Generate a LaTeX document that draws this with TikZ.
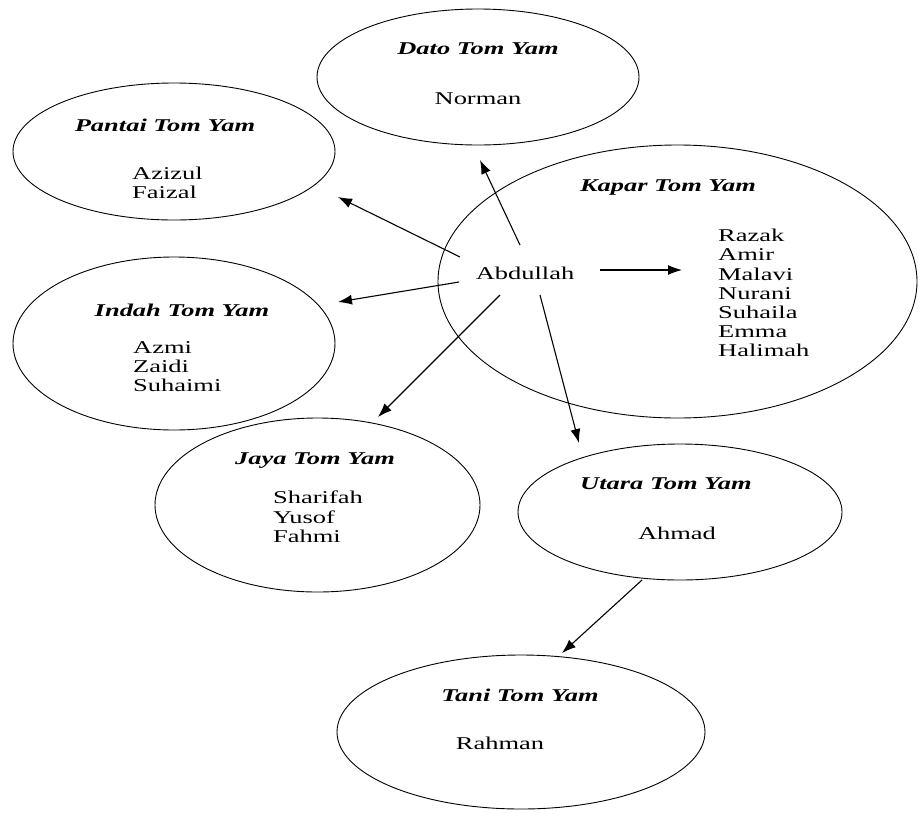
\documentclass[tikz,border=0pt]{standalone}
\usepackage{fontspec}
\setmainfont{Liberation Serif}[FakeStretch=1.47]
\usetikzlibrary{arrows.meta,shapes.geometric,calc}

\tikzset{
  grp/.style={draw, ellipse, line width=0.9pt, inner sep=0pt},
  ttl/.style={anchor=base, inner sep=0pt, font=\fontsize{18}{19.2}\selectfont\bfseries\itshape},
  who/.style={anchor=base, inner sep=0pt},
  names/.style={align=left, anchor=north west, inner sep=0pt},
  arr/.style={line width=1.1pt, -{Latex[length=14pt,width=10pt]}}
}

\begin{document}
\begin{tikzpicture}[x=1pt, y=-1pt, font=\fontsize{18}{19.2}\selectfont]
\useasboundingbox (0,0) rectangle (918,812);

% outlets
\node[grp, minimum width=322pt, minimum height=136pt] (dato)   at (478,77)    {};
\node[grp, minimum width=322pt, minimum height=137pt] (pantai) at (174,151.5) {};
\node[grp, minimum width=479pt, minimum height=273pt] (kapar)  at (677.5,281.5) {};
\node[grp, minimum width=322pt, minimum height=173pt] (indah)  at (174,343.5) {};
\node[grp, minimum width=325pt, minimum height=174pt] (jaya)   at (317.5,505) {};
\node[grp, minimum width=324pt, minimum height=136pt] (utara)  at (680,512)   {};
\node[grp, minimum width=368pt, minimum height=154pt] (tani)   at (521,732)   {};

% titles
\node[ttl] (datoT)   at (478,54)  {Dato Tom Yam};
\node[ttl] (pantaiT) at (165,131) {Pantai Tom Yam};
\node[ttl] (kaparT)  at (668,191) {Kapar Tom Yam};
\node[ttl] (indahT)  at (182,316) {Indah Tom Yam};
\node[ttl] (jayaT)   at (315,464) {Jaya Tom Yam};
\node[ttl] (utaraT)  at (666,489) {Utara Tom Yam};
\node[ttl] (taniT)   at (520,701) {Tani Tom Yam};

% members
\node[who] (norman) at (478,104) {Norman};
\node[names] (pantaiN) at (132,167) {Azizul\\Faizal};
\node[names] (kaparN)  at (718,229) {Razak\\Amir\\Malavi\\Nurani\\Suhaila\\Emma\\Halimah};
\node[names] (indahN)  at (133,341) {Azmi\\Zaidi\\Suhaimi};
\node[names] (jayaN)   at (273,491) {Sharifah\\Yusof\\Fahmi};
\node[who] (ahmad)  at (677,539) {Ahmad};
\node[who] (rahman) at (500,749) {Rahman};

% centre person
\node[inner sep=0pt] (abd) at (525,273) {Abdullah};

% links
\draw[arr] ($(abd)+(-5,-28)$) -- ($(dato)+(2,83)$);
\draw[arr] ($(abd)+(-65,-16)$) -- ($(pantai)+(164,45.5)$);
\draw[arr] ($(abd)+(-66,9)$) -- ($(indah)+(164,-41.5)$);
\draw[arr] ($(abd)+(-25,22)$) -- ($(jaya)+(60.5,-88)$);
\draw[arr] ($(abd)+(15,22)$) -- ($(utara)+(-101,-69)$);
\draw[arr] ($(abd)+(75,-3)$) -- ($(kaparN.north west)+(-36,41)$);
\draw[arr] ($(utara)+(-38,68)$) -- ($(tani)+(41,-79)$);
\end{tikzpicture}
\end{document}
